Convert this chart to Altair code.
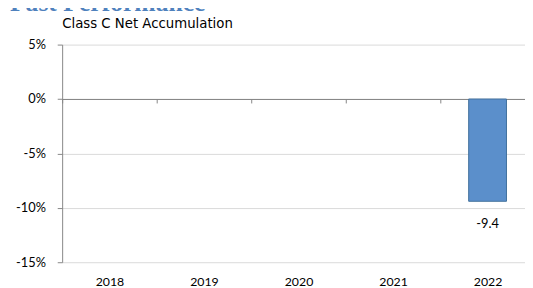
import altair as alt
import pandas as pd

years = ["2018", "2019", "2020", "2021", "2022"]
values = [None, None, None, None, -9.4]
y_ticks = [5, 0, -5, -10, -15]
heading = "Past Performance"
subtitle = "Class C Net Accumulation"

FONT = "Lato"
GRID = "#d9d9d9"
AXIS = "#868686"

df = pd.DataFrame({"year": years, "value": values})
df["label"] = [None if v is None else f"{v:.1f}" for v in values]

x_enc = alt.X(
    "year:N",
    sort=years,
    scale=alt.Scale(range=[0, 480], paddingInner=0, paddingOuter=0),
    axis=alt.Axis(
        orient="bottom",
        offset=-165.75,
        title=None,
        domainColor=AXIS,
        domainWidth=1,
        tickColor=AXIS,
        tickSize=4,
        tickBand="extent",
        labelAngle=0,
        labelPadding=175,
        labelFont=FONT,
        labelFontSize=12.5,
        labelColor="#000000",
        grid=False,
    ),
)
y_enc = alt.Y(
    "value:Q",
    scale=alt.Scale(domain=[-15, 5], nice=False, zero=False),
    axis=alt.Axis(
        values=y_ticks,
        title=None,
        labelExpr="datum.value + '%'",
        domainColor=AXIS,
        tickColor=AXIS,
        tickSize=5,
        labelPadding=12,
        labelFont=FONT,
        labelFontSize=13,
        labelColor="#000000",
        gridColor=GRID,
        grid=True,
    ),
)

bars = alt.Chart(df).mark_bar(
    color="#5b8fcb", stroke="#41719c", strokeWidth=1,
    width=alt.RelativeBandSize(0.4),
).encode(x=x_enc, y=y_enc, y2=alt.datum(0))

labels = alt.Chart(df).mark_text(
    dy=23, baseline="middle", font=FONT, fontSize=13, color="#000000"
).encode(x=alt.X("year:N", sort=years), y="value:Q", text="label:N")

sub = alt.Chart(pd.DataFrame({"t": [subtitle]})).mark_text(
    align="left", baseline="alphabetic", font="DejaVu Sans", fontSize=13.5, color="#000000"
).encode(x=alt.value(0), y=alt.value(-16.5), text="t:N")

head = alt.Chart(pd.DataFrame({"t": [heading]})).mark_text(
    align="left", baseline="alphabetic", font="Liberation Serif", fontSize=26,
    fontWeight="bold", color="#4f81bd"
).encode(x=alt.value(-53), y=alt.value(-34.5), text="t:N")

chart = (
    alt.layer(bars, labels, sub, head)
    .properties(
        width=470,
        height=221,
        autosize=alt.AutoSizeParams(type="none"),
        padding={"left": 55, "top": 35, "right": 0, "bottom": 24},
    )
    .configure_view(strokeWidth=0)
)

chart.save("out.html", embed_options={"renderer": "svg", "actions": False})
